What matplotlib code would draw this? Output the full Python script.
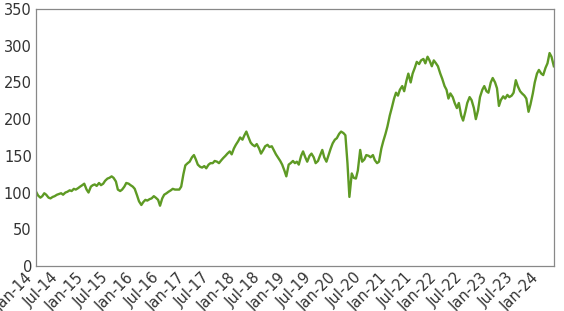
import matplotlib
matplotlib.use("Agg")
import matplotlib.pyplot as plt
import matplotlib.dates as mdates
import pandas as pd

# Semi-monthly readings (1st and 15th of each month)
v2014 = [101, 96, 93, 95, 99, 97, 93, 92, 94, 95, 97, 98,
         99, 97, 100, 101, 103, 102, 105, 104, 106, 108, 110, 112]
v2015 = [104, 100, 108, 110, 111, 109, 113, 110, 112, 116, 119, 120,
         122, 120, 115, 104, 102, 104, 108, 113, 112, 110, 108, 105]
v2016 = [96, 88, 83, 87, 90, 89, 91, 92, 95, 93, 90, 82,
         92, 97, 99, 101, 103, 105, 104, 104, 104, 108, 125, 137]
v2017 = [140, 142, 148, 151, 145, 138, 135, 134, 136, 133, 138, 140,
         140, 143, 142, 140, 144, 147, 150, 153, 156, 152, 160, 165]
v2018 = [170, 175, 172, 178, 183, 176, 168, 165, 163, 166, 160, 153,
         158, 163, 165, 162, 163, 158, 152, 148, 143, 138, 130, 122]
v2019 = [138, 140, 143, 140, 142, 138, 150, 156, 148, 142, 150, 153,
         148, 140, 143, 150, 158, 148, 142, 150, 160, 167, 172, 174]
v2020 = [180, 183, 181, 178, 140, 94, 126, 120, 119, 130, 158, 142,
         145, 151, 150, 148, 151, 144, 140, 142, 160, 170, 180, 190]
v2021 = [205, 215, 228, 236, 232, 240, 245, 238, 252, 262, 250, 262,
         270, 278, 275, 280, 282, 276, 285, 280, 272, 280, 276, 272]
v2022 = [262, 255, 245, 240, 228, 235, 230, 222, 215, 222, 205, 198,
         210, 222, 230, 226, 215, 200, 212, 230, 240, 245, 238, 236]
v2023 = [250, 256, 250, 242, 218, 226, 231, 228, 233, 230, 232, 236,
         253, 245, 238, 235, 232, 228, 210, 220, 235, 250, 262, 267]
v2024 = [262, 260, 270, 276, 290, 285, 272]

values = v2014 + v2015 + v2016 + v2017 + v2018 + v2019 + v2020 + v2021 + v2022 + v2023 + v2024
dates = pd.date_range("2014-01-01", periods=len(values), freq="SMS")

yticks = [0, 50, 100, 150, 200, 250, 300, 350]

fig = plt.figure(figsize=(5.64, 3.11), dpi=100)
ax = fig.add_axes([0.064, 0.145, 0.918, 0.826])
ax.plot(dates, values, color="#5e9a24", linewidth=1.7)

ax.set_xlim(dates[0], dates[-1])
ax.set_ylim(0, 350)
ax.set_yticks(yticks)
ax.xaxis.set_major_locator(mdates.MonthLocator(bymonth=[1, 7]))
ax.xaxis.set_major_formatter(mdates.DateFormatter("%b-%y"))
for lab in ax.get_xticklabels():
    lab.set_rotation(45)
    lab.set_ha("right")
ax.tick_params(axis="both", length=0, labelsize=10.5, labelcolor="#333333", pad=3)
for s in ax.spines.values():
    s.set_color("#888888")
    s.set_linewidth(0.9)

fig.savefig("out.png", dpi=100)
